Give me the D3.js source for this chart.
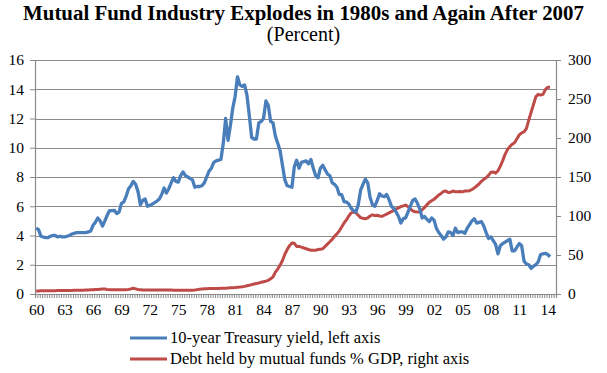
<!DOCTYPE html>
<html>
<head>
<meta charset="utf-8">
<script src="https://cdn.jsdelivr.net/npm/d3@7"></script>
<style>
  body { margin: 0; background: #fff; }
  svg text { font-family: "Liberation Serif", "Times New Roman", serif; fill: #000; }
</style>
</head>
<body>
<div id="chart"></div>
<script>
// quarterly, 1960Q1 .. 2014Q2
const quarterCount = 220; // category slots on the axis (1960Q1 .. 2014Q4)

const treasuryYield = [
  4.5, 4.4, 3.95, 3.9,   3.85, 3.85, 3.95, 4.0,   4.0, 3.9, 3.95, 3.9,   3.9, 3.95, 4.0, 4.1,
  4.15, 4.2, 4.2, 4.2,   4.2, 4.2, 4.25, 4.3,     4.7, 4.9, 5.2, 5.0,    4.65, 5.0, 5.4, 5.7,
  5.7, 5.72, 5.5, 5.6,   6.2, 6.3, 6.7, 7.2,      7.4, 7.7, 7.5, 7.0,    6.1, 6.4, 6.5, 6.0,
  6.05, 6.15, 6.25, 6.35, 6.5, 6.8, 7.25, 6.9,    7.2, 7.6, 7.95, 7.7,   7.65, 8.1, 8.35, 8.1,
  8.0, 7.9, 7.8, 7.3,    7.35, 7.35, 7.4, 7.6,    8.0, 8.4, 8.6, 9.0,    9.1, 9.15, 9.2, 10.3,
  12.0, 10.5, 11.5, 12.7, 13.5, 14.85, 14.3, 14.2, 14.3, 13.6, 12.2, 10.7, 10.6, 10.6, 11.7, 11.8,
  12.0, 13.2, 12.9, 11.8, 11.7, 10.8, 10.3, 9.8,   8.8, 7.8, 7.4, 7.35,   7.3, 8.7, 9.15, 8.6,
  9.0, 9.05, 9.1, 8.9,   9.2, 8.6, 8.1, 7.95,     8.6, 8.8, 8.5, 8.2,    8.1, 7.6, 7.5, 7.3,
  6.8, 6.8, 6.3, 6.3,    6.15, 5.86, 5.7, 5.6,    6.1, 7.1, 7.5, 7.85,   7.6, 6.6, 6.1, 6.0,
  6.4, 6.85, 6.7, 6.65,  6.8, 6.45, 6.0, 5.85,    5.6, 5.3, 4.85, 5.15,  5.2, 5.6, 6.0, 6.4,
  6.5, 6.2, 5.8, 5.2,    5.3, 5.1, 4.95, 5.2,     5.05, 4.5, 4.2, 4.0,   3.75, 3.9, 4.25, 4.2,
  4.0, 4.5, 4.2, 4.25,   4.25, 4.15, 4.5, 4.75,   5.0, 5.15, 4.85, 4.9,  4.95, 4.65, 4.2, 3.8,
  3.9, 3.65, 3.4, 2.75,  3.3, 3.45, 3.55, 3.65,   3.75, 2.95, 2.95, 3.2, 3.45, 3.3, 2.25, 2.05,
  2.0, 1.75, 1.9, 2.0,   2.2, 2.7, 2.75, 2.78,    2.7, 2.55
];

const debtPctGdp = [
  4.0, 4.0, 4.1, 4.1,    4.2, 4.2, 4.3, 4.3,      4.3, 4.4, 4.4, 4.5,    4.5, 4.6, 4.6, 4.6,
  4.7, 4.7, 4.8, 4.8,    4.9, 5.0, 5.1, 5.3,      5.5, 5.7, 5.9, 6.2,    6.4, 6.3, 5.9, 5.6,
  5.4, 5.3, 5.5, 5.4,    5.3, 5.5, 5.6, 5.9,      6.5, 7.4, 6.6, 5.8,    5.4, 5.0, 5.0, 5.1,
  5.1, 5.2, 5.2, 5.2,    5.1, 5.1, 5.0, 5.0,      5.0, 5.0, 4.9, 4.9,    4.9, 4.9, 4.8, 4.8,
  4.8, 4.8, 4.9, 5.2,    5.6, 6.0, 6.4, 6.6,      6.8, 6.9, 7.0, 7.0,    7.1, 7.2, 7.3, 7.4,
  7.5, 7.7, 7.9, 8.1,    8.3, 8.6, 8.9, 9.3,      9.8, 10.5, 11.2, 12.0, 12.8, 13.5, 14.2, 15.0,
  15.8, 16.5, 17.5, 19.5, 22, 28, 32, 37,         43, 51, 57, 62,        65.5, 65, 61, 61,
  60, 59, 58, 57,        56, 56, 56, 57,          57.5, 58, 61, 64,      67, 70, 74, 77,
  81, 86, 91, 95,        100, 104, 105, 104,      101, 98, 97, 96.5,     97.5, 100, 101.5, 100.5,
  101, 100, 99.5, 101,   102.5, 104, 105.5, 107.5, 109, 110.5, 112, 113, 114, 112, 109, 106.5,
  105.5, 105, 105.5, 108, 111, 114.5, 117.5, 119.5, 121.5, 124, 127, 129, 131.5, 132, 130, 130.5,
  132, 131, 131, 131.5,  131, 132, 132, 132.5,    134, 136, 138.5, 141,  144.5, 147, 149, 152,
  156, 156.5, 155, 158,  164, 171, 179, 185,      189, 192, 194, 199,    204, 206.5, 208, 212,
  223, 233, 243, 253,    256, 255, 256, 262,      265, 265
];

const yearLabels = ['60','63','66','69','72','75','78','81','84','87','90','93','96','99','02','05','08','11','14'];
const leftTicks = [0, 2, 4, 6, 8, 10, 12, 14, 16];
const rightTicks = [0, 50, 100, 150, 200, 250, 300];
const seriesNames = ['10-year Treasury yield, left axis', 'Debt held by mutual funds % GDP, right axis'];
const colors = ['#4a7ebb', '#be4b48'];

const serif = '"Liberation Serif", "Times New Roman", serif';
const width = 607, height = 373;
const margin = { top: 60, right: 51, bottom: 79, left: 35 };
const plotW = width - margin.left - margin.right;
const plotH = height - margin.top - margin.bottom;

const svg = d3.select('#chart').append('svg')
  .attr('width', width)
  .attr('height', height)
  .attr('font-family', serif);

const g = svg.append('g').attr('transform', `translate(${margin.left},${margin.top})`);

const x = d3.scaleLinear().domain([0, quarterCount]).range([0, plotW]);
const yL = d3.scaleLinear().domain([0, 16]).range([plotH, 0]);
const yR = d3.scaleLinear().domain([0, 300]).range([plotH, 0]);

const grid = '#8a8a8a';

// gridlines
g.append('g')
  .selectAll('line')
  .data(leftTicks.filter(d => d > 0))
  .join('line')
  .attr('x1', 0).attr('x2', plotW)
  .attr('y1', d => Math.round(yL(d)) + 0.5).attr('y2', d => Math.round(yL(d)) + 0.5)
  .attr('stroke', grid).attr('stroke-width', 1);

const leftAxis = g.append('g')
  .call(d3.axisLeft(yL).tickValues(leftTicks).tickSize(5).tickPadding(6).tickFormat(d3.format('d')));
const rightAxis = g.append('g')
  .attr('transform', `translate(${plotW},0)`)
  .call(d3.axisRight(yR).tickValues(rightTicks).tickSize(5).tickPadding(7).tickFormat(d3.format('d')));
// a tick per quarter
const bottomAxis = g.append('g')
  .attr('transform', `translate(0,${plotH})`)
  .call(d3.axisBottom(x).tickValues(d3.range(0, quarterCount + 1)).tickSize(4).tickFormat(''));
// year labels every 12 quarters
const labelAxis = g.append('g')
  .attr('transform', `translate(0,${plotH})`)
  .call(d3.axisBottom(x)
    .tickValues(yearLabels.map((_, i) => i * 12 + 0.5))
    .tickSize(0).tickPadding(10)
    .tickFormat((d, i) => yearLabels[i]));
labelAxis.select('.domain').remove();

[leftAxis, rightAxis, bottomAxis, labelAxis].forEach(a => {
  a.attr('font-family', serif).attr('font-size', 15.5);
  a.selectAll('path.domain').attr('stroke', grid).attr('stroke-width', 1.2);
  a.selectAll('.tick line').attr('stroke', grid).attr('stroke-width', 1);
  a.selectAll('.tick text').attr('fill', '#000');
});

const blueLine = d3.line().x((d, i) => x(i + 0.5)).y(d => yL(d));
const redLine = d3.line().x((d, i) => x(i + 0.5)).y(d => yR(d));

g.append('path')
  .datum(debtPctGdp)
  .attr('fill', 'none')
  .attr('stroke', colors[1])
  .attr('stroke-width', 3)
  .attr('stroke-linejoin', 'round')
  .attr('d', redLine);

g.append('path')
  .datum(treasuryYield)
  .attr('fill', 'none')
  .attr('stroke', colors[0])
  .attr('stroke-width', 3.3)
  .attr('stroke-linejoin', 'round')
  .attr('d', blueLine);

// title
svg.append('text')
  .attr('x', width / 2).attr('y', 20)
  .attr('text-anchor', 'middle')
  .attr('font-size', 20.9).attr('font-weight', 'bold')
  .text('Mutual Fund Industry Explodes in 1980s and Again After 2007');
svg.append('text')
  .attr('x', width / 2).attr('y', 41)
  .attr('text-anchor', 'middle')
  .attr('font-size', 20)
  .text('(Percent)');

// legend
const legend = svg.append('g').attr('transform', 'translate(130,338)');
seriesNames.forEach((name, i) => {
  const row = legend.append('g').attr('transform', `translate(0,${i * 21})`);
  row.append('line')
    .attr('x1', 0).attr('x2', 37)
    .attr('stroke', colors[i]).attr('stroke-width', 3);
  row.append('text')
    .attr('x', 40).attr('y', 5)
    .attr('font-size', 16.5)
    .text(name);
});
</script>
</body>
</html>
